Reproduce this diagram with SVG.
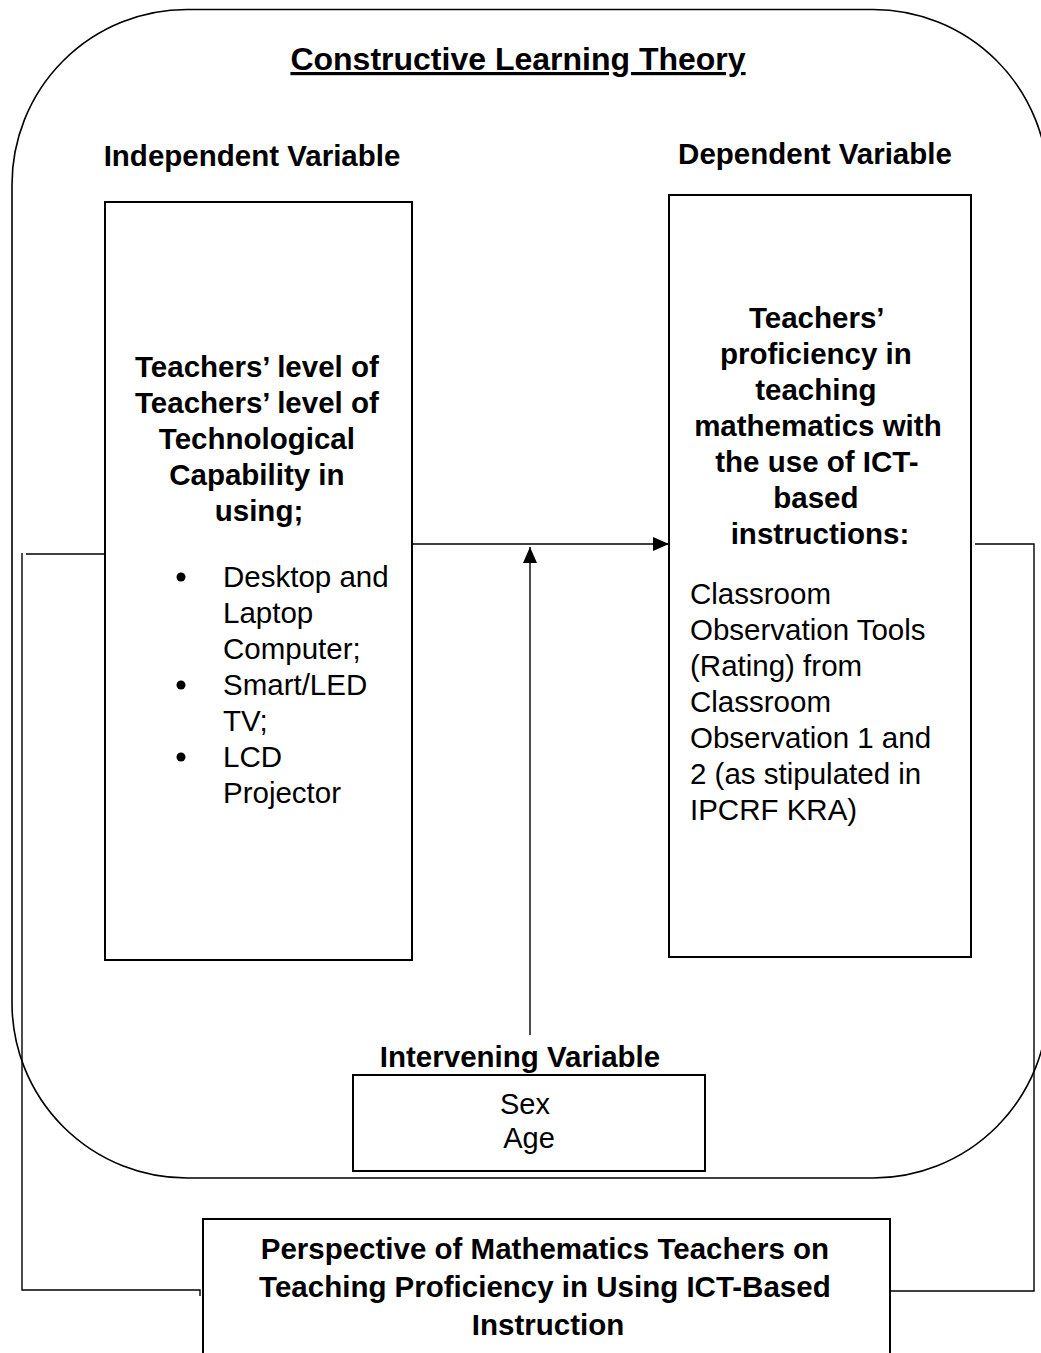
<svg xmlns="http://www.w3.org/2000/svg" width="1041" height="1353" viewBox="0 0 1041 1353">
<defs>
<style>
.t{font-family:"Liberation Sans",Arial,sans-serif;fill:#000}
.b{font-weight:bold}
.box{fill:none;stroke:#000;stroke-width:2}
.ln{fill:none;stroke:#000;stroke-width:1.4}
</style>
<marker id="ah" markerWidth="16" markerHeight="14" refX="16" refY="7" orient="auto" markerUnits="userSpaceOnUse">
<path d="M0,0 L16,7 L0,14 Z" fill="#000"/>
</marker>
</defs>
<rect width="1041" height="1353" fill="#fff"/>
<g id="frame">
<rect x="12" y="9.5" width="1036" height="1168.5" rx="175" ry="175" fill="none" stroke="#000" stroke-width="1.6"/>
<text class="t b" x="518" y="70" font-size="32" text-anchor="middle" text-decoration="underline">Constructive Learning Theory</text>
<text class="t b" x="252" y="166" font-size="29.5" text-anchor="middle">Independent Variable</text>
<text class="t b" x="815" y="164" font-size="29.5" text-anchor="middle">Dependent Variable</text>
</g>
<g id="independent">
<rect class="box" x="105" y="202" width="307" height="758"/>
<text class="t b" font-size="29.5" text-anchor="middle">
<tspan x="261" y="377">Teachers’ level of</tspan>
<tspan x="261" y="413">Teachers’ level of</tspan>
<tspan x="261" y="449">Technological</tspan>
<tspan x="261" y="485">Capability in</tspan>
<tspan x="259" y="521">using;</tspan>
</text>
<circle cx="181" cy="577" r="4.5"/>
<circle cx="181" cy="685" r="4.5"/>
<circle cx="181" cy="757" r="4.5"/>
<text class="t" font-size="29.5">
<tspan x="223" y="587">Desktop and</tspan>
<tspan x="223" y="623">Laptop</tspan>
<tspan x="223" y="659">Computer;</tspan>
<tspan x="223" y="695">Smart/LED</tspan>
<tspan x="223" y="731">TV;</tspan>
<tspan x="223" y="767">LCD</tspan>
<tspan x="223" y="803">Projector</tspan>
</text>
</g>
<g id="dependent">
<rect class="box" x="669" y="195" width="302" height="762"/>
<text class="t b" font-size="29.5" text-anchor="middle">
<tspan x="820" y="328">Teachers’</tspan>
<tspan x="820" y="364">proficiency in</tspan>
<tspan x="820" y="400">teaching</tspan>
<tspan x="822" y="436">mathematics with</tspan>
<tspan x="821" y="472">the use of ICT-</tspan>
<tspan x="820" y="508">based</tspan>
<tspan x="820" y="544">instructions:</tspan>
</text>
<text class="t" font-size="29.5">
<tspan x="690" y="604">Classroom</tspan>
<tspan x="690" y="640">Observation Tools</tspan>
<tspan x="690" y="676">(Rating) from</tspan>
<tspan x="690" y="712">Classroom</tspan>
<tspan x="690" y="748">Observation 1 and</tspan>
<tspan x="690" y="784">2 (as stipulated in</tspan>
<tspan x="690" y="820">IPCRF KRA)</tspan>
</text>
</g>
<g id="intervening">
<text class="t b" x="520" y="1067" font-size="29.5" text-anchor="middle">Intervening Variable</text>
<rect class="box" x="353" y="1075" width="352" height="96"/>
<text class="t" font-size="29" text-anchor="middle">
<tspan x="529" y="1114">Sex</tspan>
<tspan x="529" y="1148">Age</tspan>
</text>
</g>
<g id="perspective">
<rect class="box" x="203" y="1219" width="687" height="150"/>
<text class="t b" font-size="29.5" text-anchor="middle">
<tspan x="549" y="1259">Perspective of Mathematics Teachers on</tspan>
<tspan x="549" y="1297">Teaching Proficiency in Using ICT-Based</tspan>
<tspan x="548" y="1335">Instruction</tspan>
</text>
</g>
<g id="connectors">
<line class="ln" x1="412" y1="544" x2="669" y2="544" marker-end="url(#ah)"/>
<line class="ln" x1="530" y1="1035" x2="530" y2="547" marker-end="url(#ah)"/>
<polyline class="ln" points="105,554 26,554"/>
<polyline class="ln" points="22,553 22,1290 200,1290 200,1296"/>
<polyline class="ln" points="975,544 1034,544 1034,1291 890,1291"/>
</g>
</svg>
